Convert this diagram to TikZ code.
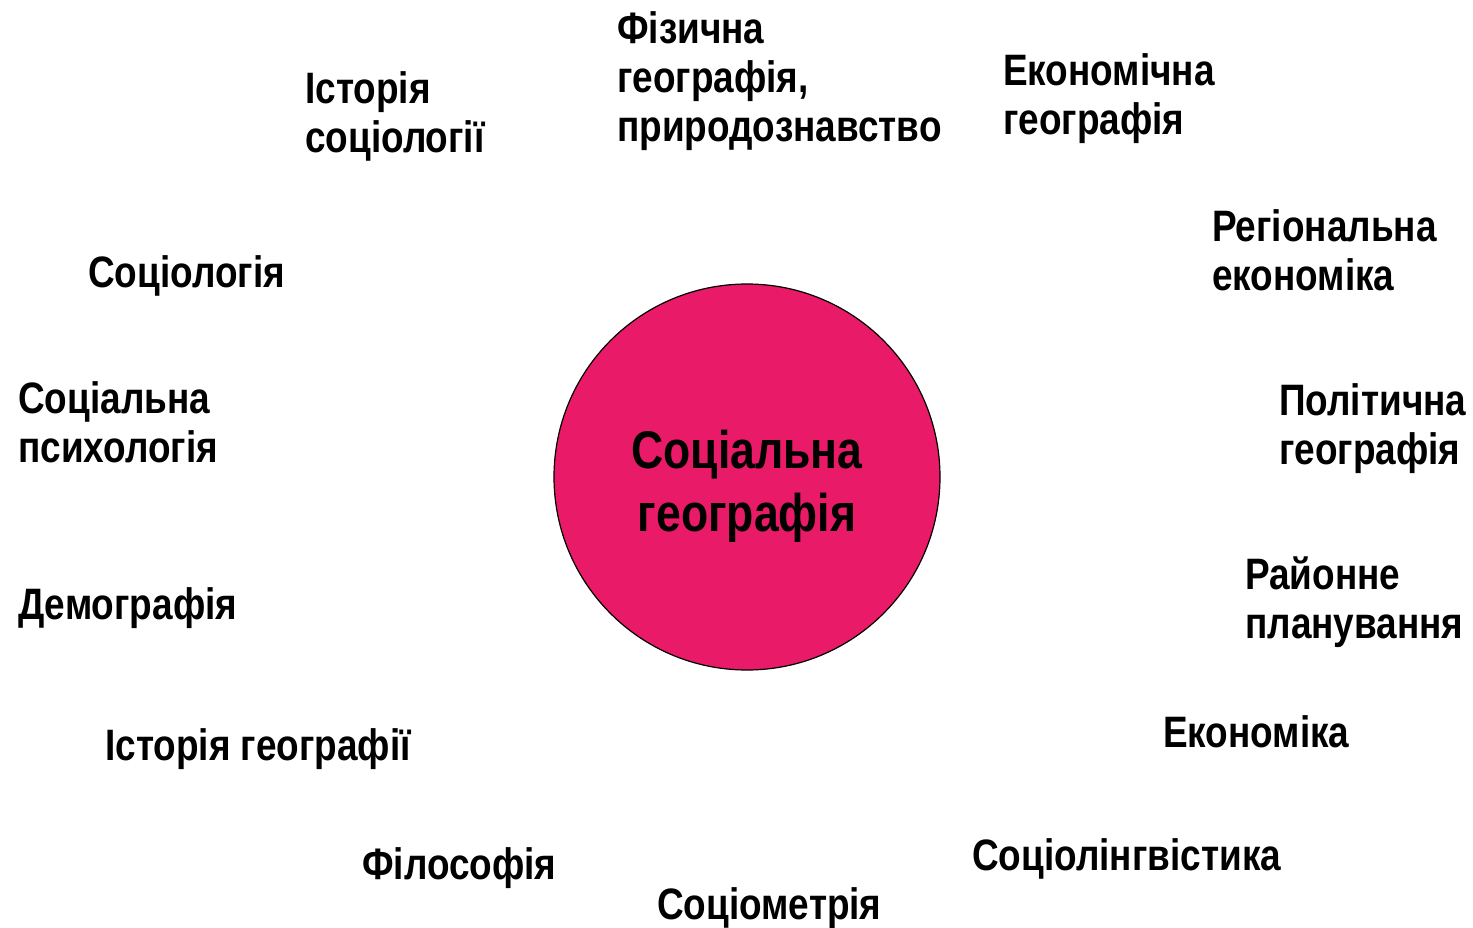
\documentclass[tikz,border=0pt]{standalone}
\usepackage{fontspec}
\setmainfont[FakeStretch=0.84]{Liberation Sans}
\definecolor{sg@pink}{RGB}{233,26,103}

\begin{document}
\begin{tikzpicture}[x=1pt, y=-1pt,
    discipline/.style={anchor=base west, align=left, inner sep=0pt,
      font=\fontsize{44}{49}\selectfont\bfseries},
    core/.style={circle, draw=black, line width=1.2pt, fill=sg@pink,
      minimum size=386pt, inner sep=0pt},
    coretext/.style={align=center, inner sep=0pt,
      font=\fontsize{53}{63}\selectfont\bfseries}]
  % Page frame in reference pixels (y grows downwards)
  \path[use as bounding box] (0,0) rectangle (1473,927);

  % ---- CENTRE ----
  \node[core] (socgeo) at (747,477) {};
  \node[coretext] (socgeotitle) at (747,486) {Соціальна\\географія};

  % ---- NEIGHBOURING DISCIPLINES (x, baseline of last line) ----
  \foreach \nm/\xx/\yy/\txt in {
      fizgeo/617/141/{Фізична\\географія,\\природознавство},
      histsoc/305/152/{Історія\\соціології},
      econgeo/1003/134/{Економічна\\географія},
      sociol/88/287/{Соціологія},
      regecon/1212/290/{Регіональна\\економіка},
      socpsy/18/462/{Соціальна\\психологія},
      polgeo/1279/464/{Політична\\географія},
      planning/1245/638/{Районне\\планування},
      demogr/18/619/{Демографія},
      econ/1163/747/{Економіка},
      histgeo/105/760/{Історія географії},
      socling/972/870/{Соціолінгвістика},
      philos/362/879/{Філософія},
      sociom/657/919/{Соціометрія}%
    } {
    \node[discipline] (\nm) at (\xx,\yy) {\txt};
  }
\end{tikzpicture}
\end{document}
